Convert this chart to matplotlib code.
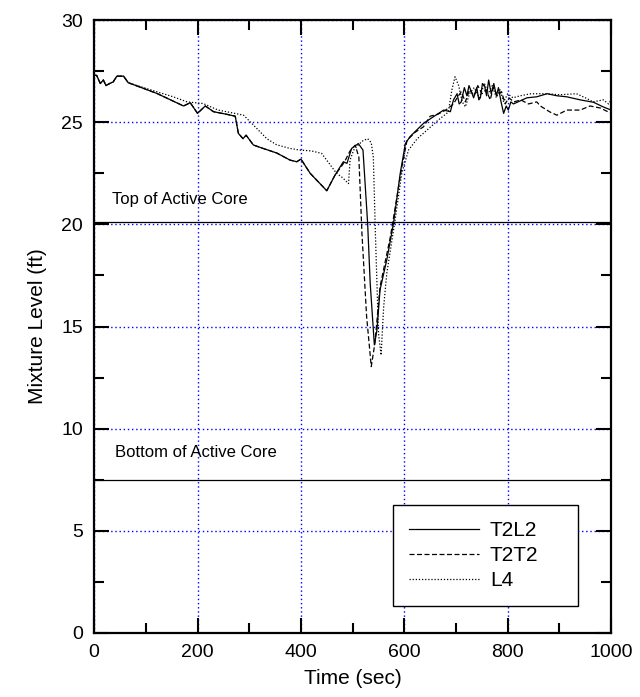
import numpy as np
import matplotlib.pyplot as plt

plt.rcParams['font.family'] = ['Liberation Sans', 'DejaVu Sans']

# T2L2 (solid)
t_t2l2 = [0, 5, 12, 18, 23, 30, 37, 44, 57, 66, 121, 173, 186, 200, 215, 231, 255, 273, 279, 288,
          294, 308, 327, 353, 379, 392, 400, 418, 450, 466, 482, 489, 498, 511, 520, 529, 534, 542,
          547, 553, 566, 579, 592, 602, 611, 637, 656, 676, 689, 695, 702, 706, 710, 716, 721, 725,
          728, 734, 740, 744, 747, 751, 755, 759, 763, 768, 773, 778, 782, 787, 792, 797, 801, 806,
          811, 824, 837, 856, 876, 895, 914, 940, 966, 985, 1000]
y_t2l2 = [27.3, 27.3, 26.9, 27.07, 26.8, 26.9, 26.98, 27.26, 27.26, 26.94, 26.42, 25.8, 25.96, 25.44,
          25.8, 25.52, 25.4, 25.3, 24.46, 24.2, 24.37, 23.89, 23.72, 23.5, 23.15, 23.07, 23.2, 22.5,
          21.65, 22.42, 23.07, 22.99, 23.72, 23.96, 23.64, 20.05, 17.1, 14.1, 14.83, 16.8, 18.26,
          20.05, 22.5, 23.96, 24.3, 24.95, 25.27, 25.6, 25.52, 26.1, 26.4, 25.9, 26.0, 26.7, 26.3,
          26.8, 26.6, 26.2, 26.7, 26.1, 26.2, 26.9, 26.8, 26.3, 27.07, 26.4, 26.9, 26.3, 26.7, 26.0,
          25.44, 25.8, 25.6, 26.0, 25.9, 26.05, 26.2, 26.25, 26.4, 26.3, 26.25, 26.1, 25.98, 25.75,
          25.6]

# T2T2 (dashed)
t_t2t2 = [0, 5, 12, 18, 23, 30, 37, 44, 57, 66, 121, 173, 186, 200, 215, 231, 255, 273, 279, 288,
          294, 308, 327, 353, 379, 392, 400, 418, 450, 466, 480, 486, 495, 505, 512, 518, 527, 536,
          543, 553, 573, 595, 605, 620, 637, 650, 665, 680, 695, 702, 710, 718, 726, 735, 742, 750,
          758, 766, 772, 780, 788, 795, 802, 812, 825, 840, 856, 863, 882, 895, 914, 940, 959, 979,
          995, 1000]
y_t2t2 = [27.3, 27.3, 26.9, 27.07, 26.8, 26.9, 26.98, 27.26, 27.26, 26.94, 26.42, 25.8, 25.96, 25.44,
          25.8, 25.52, 25.4, 25.3, 24.46, 24.2, 24.37, 23.89, 23.72, 23.5, 23.15, 23.07, 23.2, 22.5,
          21.65, 22.42, 22.9, 23.15, 23.6, 23.88, 23.3, 19.56, 15.5, 13.04, 14.18, 16.95, 19.4,
          22.8, 24.1, 24.5, 24.78, 25.3, 25.4, 25.6, 25.9, 26.2, 26.5, 26.0, 26.6, 26.3, 26.8, 26.4,
          26.6, 26.1, 26.7, 26.3, 26.5, 25.9, 26.2, 26.0, 26.1, 25.9, 26.0, 25.8, 25.5, 25.35, 25.6,
          25.6, 25.8, 25.7, 25.5, 25.45]

# L4 (dotted)
t_l4 = [0, 5, 12, 18, 23, 30, 37, 44, 57, 66, 121, 153, 180, 211, 240, 270, 289, 308, 334, 353,
        379, 398, 420, 440, 469, 480, 492, 495, 502, 511, 520, 529, 536, 540, 544, 550, 555, 560,
        566, 582, 595, 608, 625, 643, 665, 685, 692, 698, 705, 712, 718, 726, 735, 745, 755, 762,
        770, 778, 785, 792, 800, 810, 824, 845, 876, 900, 933, 950, 965, 985, 995, 1000]
y_l4 = [27.3, 27.3, 26.9, 27.07, 26.8, 26.9, 26.98, 27.26, 27.26, 26.94, 26.5, 26.25, 26.0, 25.92,
        25.6, 25.45, 25.35, 24.87, 24.2, 23.9, 23.72, 23.64, 23.6, 23.48, 22.5, 22.3, 22.0, 23.15,
        23.64, 23.9, 24.1, 24.2, 24.0, 23.3, 19.56, 14.67, 13.6, 15.97, 17.6, 20.2, 22.5, 23.64,
        24.2, 24.6, 25.1, 25.5, 26.6, 27.23, 26.8, 26.0, 25.76, 26.4, 26.7, 26.2, 26.9, 26.4, 26.8,
        26.2, 26.6, 26.0, 26.4, 26.2, 26.3, 26.4, 26.4, 26.35, 26.4, 26.2, 26.0, 26.1, 25.9, 26.1]

top_core = 20.1
bottom_core = 7.5

fig = plt.figure(figsize=(6.4, 6.97), dpi=100)
ax = fig.add_axes([0.147, 0.092, 0.808, 0.879])

ax.plot(t_t2l2, y_t2l2, color='black', lw=0.9, label='T2L2', zorder=4)
ax.plot(t_t2t2, y_t2t2, color='black', lw=0.9, linestyle=(0, (4, 2)), label='T2T2', zorder=3)
ax.plot(t_l4, y_l4, color='black', lw=0.9, linestyle=(0, (1, 1.5)), label='L4', zorder=3)

ax.axhline(top_core, color='black', lw=0.9, zorder=2)
ax.axhline(bottom_core, color='black', lw=0.9, zorder=2)
ax.text(35, 21.0, 'Top of Active Core', fontsize=12)
ax.text(40, 8.6, 'Bottom of Active Core', fontsize=12)

ax.set_xlim(0, 1000)
ax.set_ylim(0, 30)
ax.set_xticks(np.arange(0, 1001, 200))
ax.set_xticks(np.arange(0, 1001, 100), minor=True)
ax.set_yticks(np.arange(0, 31, 5))
ax.set_yticks(np.arange(0, 31, 2.5), minor=True)
ax.grid(True, which='major', color='blue', linestyle=(0, (1, 2)), lw=1, zorder=1)
ax.tick_params(which='both', direction='in', top=True, right=True, width=1.5, labelsize=14, pad=8)
ax.tick_params(which='major', length=11)
ax.tick_params(which='minor', length=7)
for s in ax.spines.values():
    s.set_linewidth(1.6)

ax.set_xlabel('Time (sec)', fontsize=15, labelpad=6)
ax.set_ylabel('Mixture Level (ft)', fontsize=15, labelpad=10)

leg = ax.legend(loc='lower left', bbox_to_anchor=(0.578, 0.044, 0.358, 0.16), mode='expand',
                borderaxespad=0, fontsize=15, frameon=True, framealpha=1, fancybox=False,
                edgecolor='black', handlelength=3.4, borderpad=0.75, labelspacing=0.3,
                handletextpad=0.5)
leg.get_frame().set_linewidth(1.0)

plt.savefig('out.png', dpi=100)
